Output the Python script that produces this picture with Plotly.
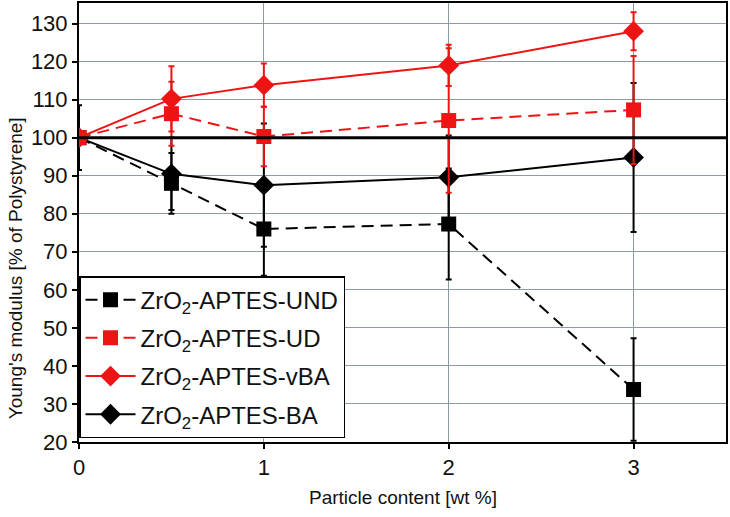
import plotly.graph_objects as go

x_vals = [0, 0.5, 1, 2, 3]

und_vals = [100, 88, 76, 77.3, 33.8]
und_err = [8.5, 8.0, 12.3, 14.6, 13.5]

ud_vals = [100, 106.3, 100.3, 104.5, 107.3]
ud_err = [0, 8.4, 7.8, 19.0, 14.2]

vba_vals = [100, 110.2, 113.8, 119.0, 128.0]
vba_err = [0, 8.6, 5.7, 5.4, 5.0]

ba_vals = [100, 90.5, 87.5, 89.6, 94.8]
ba_err = [0, 9.5, 16.2, 11.0, 19.6]

names = ["ZrO<sub>2</sub>-APTES-UND", "ZrO<sub>2</sub>-APTES-UD",
         "ZrO<sub>2</sub>-APTES-vBA", "ZrO<sub>2</sub>-APTES-BA"]

x_ticks = [0, 1, 2, 3]
y_ticks = list(range(20, 131, 10))

RED = "#ee1414"
BLACK = "#000000"
FONT = "Liberation Sans, Arial"

fig = go.Figure()

series = [
    (und_vals, und_err, names[0], BLACK, "square", "12px,7px", 15),
    (ud_vals, ud_err, names[1], RED, "square", "12px,7px", 15),
    (vba_vals, vba_err, names[2], RED, "diamond", "solid", 16),
    (ba_vals, ba_err, names[3], BLACK, "diamond", "solid", 16),
]

order = [0, 3, 1, 2]
for i in order:
    vals, err, name, col, sym, dash, msize = series[i]
    fig.add_trace(go.Scatter(
        x=x_vals, y=vals, name=name, mode="lines+markers",
        legendgroup=f"g{i}", legendrank=i + 1,
        line=dict(color=col, width=2, dash=dash),
        marker=dict(symbol=sym, size=msize, color=col, line=dict(width=0)),
        error_y=dict(type="data", array=err, visible=True, color=col,
                     thickness=2, width=3),
    ))

fig.add_shape(type="line", xref="paper", yref="y", x0=0, x1=1, y0=100, y1=100,
              line=dict(color="black", width=3), layer="above")

axis_common = dict(
    showline=True, mirror=True, linecolor="black", linewidth=2,
    showgrid=True, gridcolor="#8e9ca2", gridwidth=1,
    ticks="outside", ticklen=5, tickwidth=2, tickcolor="black",
    tickfont=dict(family=FONT, size=22, color="#111"),
    zeroline=False, automargin=False,
)

fig.update_xaxes(range=[0, 3.5], tickvals=x_ticks, **axis_common)
fig.update_yaxes(range=[20, 135.4], tickvals=y_ticks, **axis_common)

fig.add_annotation(text="Young's modulus [% of Polystyrene]", textangle=-90,
                   xref="paper", yref="paper", x=-0.098, y=0.395,
                   xanchor="center", yanchor="middle", showarrow=False,
                   font=dict(family=FONT, size=19, color="#111"))
fig.add_annotation(text="Particle content [wt %]",
                   xref="paper", yref="paper", x=0.5, y=-0.127,
                   xanchor="center", yanchor="middle", showarrow=False,
                   font=dict(family=FONT, size=19, color="#111"))

fig.update_layout(
    width=730, height=517,
    margin=dict(l=79, r=4, t=3, b=75),
    plot_bgcolor="white", paper_bgcolor="white",
    legend=dict(x=0, y=0.378, xanchor="left", yanchor="top",
                bgcolor="white", bordercolor="black", borderwidth=1.5,
                font=dict(family=FONT, size=24, color="#111"),
                tracegroupgap=4, itemwidth=50),
    showlegend=True,
)

fig.write_html("out.html", config={"displayModeBar": False},
               post_script="document.body.style.margin='0';")
